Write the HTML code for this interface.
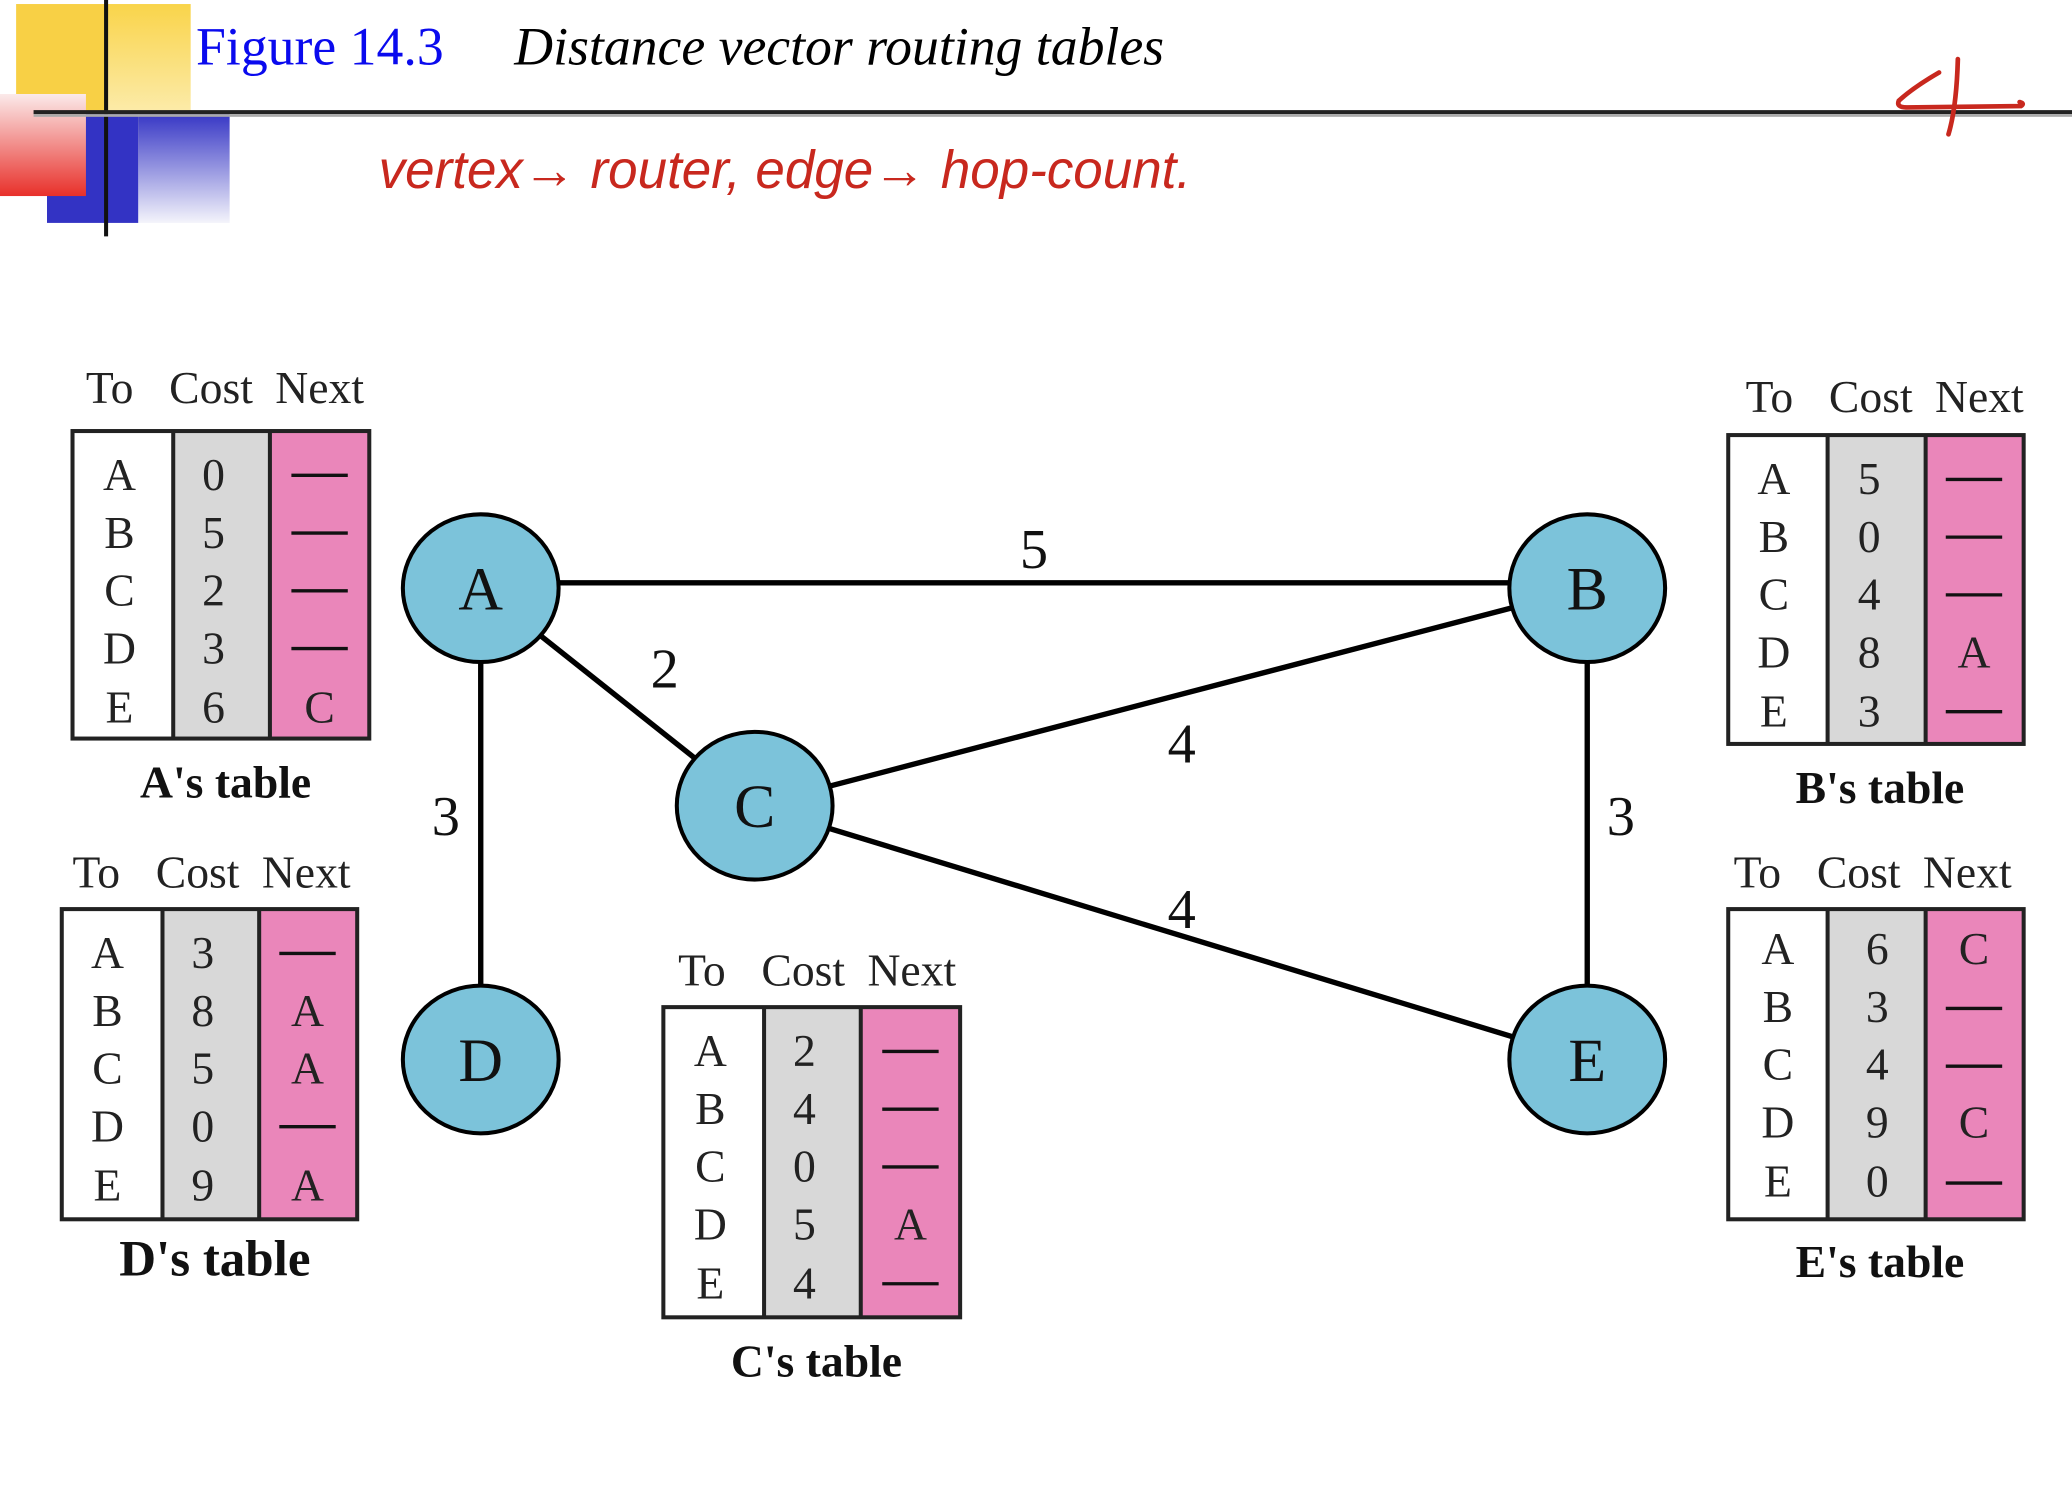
<!DOCTYPE html>
<html><head><meta charset="utf-8"><style>
html,body{margin:0;padding:0;background:#fff}
svg{display:block}
text{font-family:"Liberation Serif",serif}
.h{font-size:34px;fill:#222}
.c{font-size:34px;fill:#222;text-anchor:middle}
.cap{font-size:34px;font-weight:bold;text-anchor:middle;fill:#111}
.n{font-size:46px;text-anchor:middle;fill:#111}
.el{font-size:42px;text-anchor:middle;fill:#111}
</style></head><body>
<svg width="2072" height="1508" viewBox="0 0 1543 1123" preserveAspectRatio="none" xmlns="http://www.w3.org/2000/svg">
<defs>
<linearGradient id="gy" x1="0" y1="0" x2="0" y2="1"><stop offset="0" stop-color="#f9d44a"/><stop offset="1" stop-color="#fdf6d8"/></linearGradient>
<linearGradient id="gr" x1="0" y1="0" x2="0" y2="1"><stop offset="0" stop-color="#fbeaea"/><stop offset="1" stop-color="#e8302a"/></linearGradient>
<linearGradient id="gb" x1="0" y1="0" x2="0" y2="1"><stop offset="0" stop-color="#3333c4"/><stop offset="1" stop-color="#f4f4fb"/></linearGradient>
</defs>
<rect x="12" y="3" width="68" height="120" fill="#f8d045"/>
<rect x="80" y="3" width="62" height="120" fill="url(#gy)"/>
<rect x="35" y="83" width="68" height="83" fill="#3333c4"/>
<rect x="103" y="83" width="68" height="83" fill="url(#gb)"/>
<rect x="0" y="70" width="64" height="76" fill="url(#gr)"/>
<line x1="79" y1="0" x2="79" y2="176" stroke="#111" stroke-width="3"/>
<rect x="25" y="82" width="1518" height="3" fill="#222"/>
<rect x="25" y="85" width="1518" height="2" fill="#aaa"/>
<text x="146" y="48" style="font-size:40px;fill:#0a0aee">Figure 14.3</text>
<text x="383" y="48" style="font-size:40px;font-style:italic;fill:#000">Distance vector routing tables</text>
<text x="282" y="140" style="font-size:40px;font-style:italic;fill:#c8281e;font-family:'Liberation Sans Narrow','Liberation Sans',sans-serif" textLength="605" lengthAdjust="spacingAndGlyphs">vertex→ router,  edge→ hop-count.</text>
<path d="M1444 54 Q1425 65 1414 75 Q1412 80 1420 80 L1505 79 Q1508 77 1504 76" fill="none" stroke="#c8281e" stroke-width="3.5" stroke-linecap="round"/>
<path d="M1458 44 Q1457 80 1451 100" fill="none" stroke="#c8281e" stroke-width="3.5" stroke-linecap="round"/>

<g stroke="#000" stroke-width="4">
<line x1="358" y1="434" x2="1182" y2="434"/>
<line x1="358" y1="438" x2="562" y2="600"/>
<line x1="358" y1="438" x2="358" y2="789"/>
<line x1="562" y1="600" x2="1182" y2="438"/>
<line x1="562" y1="600" x2="1182" y2="789"/>
<line x1="1182" y1="438" x2="1182" y2="789"/>
</g>
<g fill="#7cc3da" stroke="#000" stroke-width="3">
<ellipse cx="358" cy="438" rx="58" ry="55"/>
<ellipse cx="1182" cy="438" rx="58" ry="55"/>
<ellipse cx="562" cy="600" rx="58" ry="55"/>
<ellipse cx="358" cy="789" rx="58" ry="55"/>
<ellipse cx="1182" cy="789" rx="58" ry="55"/>
</g>
<text class="n" x="358" y="454">A</text>
<text class="n" x="1182" y="454">B</text>
<text class="n" x="562" y="616">C</text>
<text class="n" x="358" y="805">D</text>
<text class="n" x="1182" y="805">E</text>
<text class="el" x="770" y="423">5</text>
<text class="el" x="495" y="512">2</text>
<text class="el" x="332" y="622">3</text>
<text class="el" x="880" y="568">4</text>
<text class="el" x="880" y="691">4</text>
<text class="el" x="1207" y="622">3</text>

<g transform="translate(54,321)">
<text class="h" y="-21"><tspan x="10">To</tspan><tspan x="72">Cost</tspan><tspan x="151">Next</tspan></text>
<rect x="0" y="0" width="75" height="229" fill="#fff"/><rect x="75" y="0" width="72" height="229" fill="#d8d8d8"/><rect x="147" y="0" width="74" height="229" fill="#ea86ba"/>
<rect x="0" y="0" width="221" height="229" fill="none" stroke="#222" stroke-width="3"/><line x1="75" y1="0" x2="75" y2="229" stroke="#222" stroke-width="3"/><line x1="147" y1="0" x2="147" y2="229" stroke="#222" stroke-width="3"/>
<text class="c" x="35" y="44">A</text><text class="c" x="35" y="87">B</text><text class="c" x="35" y="130">C</text><text class="c" x="35" y="173">D</text><text class="c" x="35" y="217">E</text>
<text class="c" x="105" y="44">0</text><text class="c" x="105" y="87">5</text><text class="c" x="105" y="130">2</text><text class="c" x="105" y="173">3</text><text class="c" x="105" y="217">6</text>
<g stroke="#111" stroke-width="2.5"><line x1="163" x2="205" y1="33" y2="33"/><line x1="163" x2="205" y1="76" y2="76"/><line x1="163" x2="205" y1="119" y2="119"/><line x1="163" x2="205" y1="162" y2="162"/></g>
<text class="c" x="184" y="217">C</text>
<text class="cap" x="114" y="273">A's table</text>
</g>

<g transform="translate(1287,324)">
<text class="h" y="-17"><tspan x="13">To</tspan><tspan x="75">Cost</tspan><tspan x="154">Next</tspan></text>
<rect x="0" y="0" width="74" height="230" fill="#fff"/><rect x="74" y="0" width="73" height="230" fill="#d8d8d8"/><rect x="147" y="0" width="73" height="230" fill="#ea86ba"/>
<rect x="0" y="0" width="220" height="230" fill="none" stroke="#222" stroke-width="3"/><line x1="74" y1="0" x2="74" y2="230" stroke="#222" stroke-width="3"/><line x1="147" y1="0" x2="147" y2="230" stroke="#222" stroke-width="3"/>
<text class="c" x="34" y="44">A</text><text class="c" x="34" y="87">B</text><text class="c" x="34" y="130">C</text><text class="c" x="34" y="173">D</text><text class="c" x="34" y="217">E</text>
<text class="c" x="105" y="44">5</text><text class="c" x="105" y="87">0</text><text class="c" x="105" y="130">4</text><text class="c" x="105" y="173">8</text><text class="c" x="105" y="217">3</text>
<g stroke="#111" stroke-width="2.5"><line x1="162" x2="204" y1="33" y2="33"/><line x1="162" x2="204" y1="76" y2="76"/><line x1="162" x2="204" y1="119" y2="119"/><line x1="162" x2="204" y1="206" y2="206"/></g>
<text class="c" x="183" y="173">A</text>
<text class="cap" x="113" y="274">B's table</text>
</g>

<g transform="translate(46,677)">
<text class="h" y="-16"><tspan x="8">To</tspan><tspan x="70">Cost</tspan><tspan x="149">Next</tspan></text>
<rect x="0" y="0" width="75" height="231" fill="#fff"/><rect x="75" y="0" width="72" height="231" fill="#d8d8d8"/><rect x="147" y="0" width="73" height="231" fill="#ea86ba"/>
<rect x="0" y="0" width="220" height="231" fill="none" stroke="#222" stroke-width="3"/><line x1="75" y1="0" x2="75" y2="231" stroke="#222" stroke-width="3"/><line x1="147" y1="0" x2="147" y2="231" stroke="#222" stroke-width="3"/>
<text class="c" x="34" y="44">A</text><text class="c" x="34" y="87">B</text><text class="c" x="34" y="130">C</text><text class="c" x="34" y="173">D</text><text class="c" x="34" y="217">E</text>
<text class="c" x="105" y="44">3</text><text class="c" x="105" y="87">8</text><text class="c" x="105" y="130">5</text><text class="c" x="105" y="173">0</text><text class="c" x="105" y="217">9</text>
<g stroke="#111" stroke-width="2.5"><line x1="162" x2="204" y1="33" y2="33"/><line x1="162" x2="204" y1="162" y2="162"/></g>
<text class="c" x="183" y="87">A</text><text class="c" x="183" y="130">A</text><text class="c" x="183" y="217">A</text>
<text class="cap" x="114" y="273" style="font-size:38px">D's table</text>
</g>

<g transform="translate(494,750)">
<text class="h" y="-16"><tspan x="11">To</tspan><tspan x="73">Cost</tspan><tspan x="152">Next</tspan></text>
<rect x="0" y="0" width="75" height="231" fill="#fff"/><rect x="75" y="0" width="72" height="231" fill="#d8d8d8"/><rect x="147" y="0" width="74" height="231" fill="#ea86ba"/>
<rect x="0" y="0" width="221" height="231" fill="none" stroke="#222" stroke-width="3"/><line x1="75" y1="0" x2="75" y2="231" stroke="#222" stroke-width="3"/><line x1="147" y1="0" x2="147" y2="231" stroke="#222" stroke-width="3"/>
<text class="c" x="35" y="44">A</text><text class="c" x="35" y="87">B</text><text class="c" x="35" y="130">C</text><text class="c" x="35" y="173">D</text><text class="c" x="35" y="217">E</text>
<text class="c" x="105" y="44">2</text><text class="c" x="105" y="87">4</text><text class="c" x="105" y="130">0</text><text class="c" x="105" y="173">5</text><text class="c" x="105" y="217">4</text>
<g stroke="#111" stroke-width="2.5"><line x1="163" x2="205" y1="33" y2="33"/><line x1="163" x2="205" y1="76" y2="76"/><line x1="163" x2="205" y1="119" y2="119"/><line x1="163" x2="205" y1="206" y2="206"/></g>
<text class="c" x="184" y="173">A</text>
<text class="cap" x="114" y="275">C's table</text>
</g>

<g transform="translate(1287,677)">
<text class="h" y="-16"><tspan x="4">To</tspan><tspan x="66">Cost</tspan><tspan x="145">Next</tspan></text>
<rect x="0" y="0" width="74" height="231" fill="#fff"/><rect x="74" y="0" width="73" height="231" fill="#d8d8d8"/><rect x="147" y="0" width="73" height="231" fill="#ea86ba"/>
<rect x="0" y="0" width="220" height="231" fill="none" stroke="#222" stroke-width="3"/><line x1="74" y1="0" x2="74" y2="231" stroke="#222" stroke-width="3"/><line x1="147" y1="0" x2="147" y2="231" stroke="#222" stroke-width="3"/>
<text class="c" x="37" y="41">A</text><text class="c" x="37" y="84">B</text><text class="c" x="37" y="127">C</text><text class="c" x="37" y="170">D</text><text class="c" x="37" y="214">E</text>
<text class="c" x="111" y="41">6</text><text class="c" x="111" y="84">3</text><text class="c" x="111" y="127">4</text><text class="c" x="111" y="170">9</text><text class="c" x="111" y="214">0</text>
<g stroke="#111" stroke-width="2.5"><line x1="162" x2="204" y1="74" y2="74"/><line x1="162" x2="204" y1="117" y2="117"/><line x1="162" x2="204" y1="204" y2="204"/></g>
<text class="c" x="183" y="41">C</text><text class="c" x="183" y="170">C</text>
<text class="cap" x="113" y="274">E's table</text>
</g>
</svg>
</body></html>
